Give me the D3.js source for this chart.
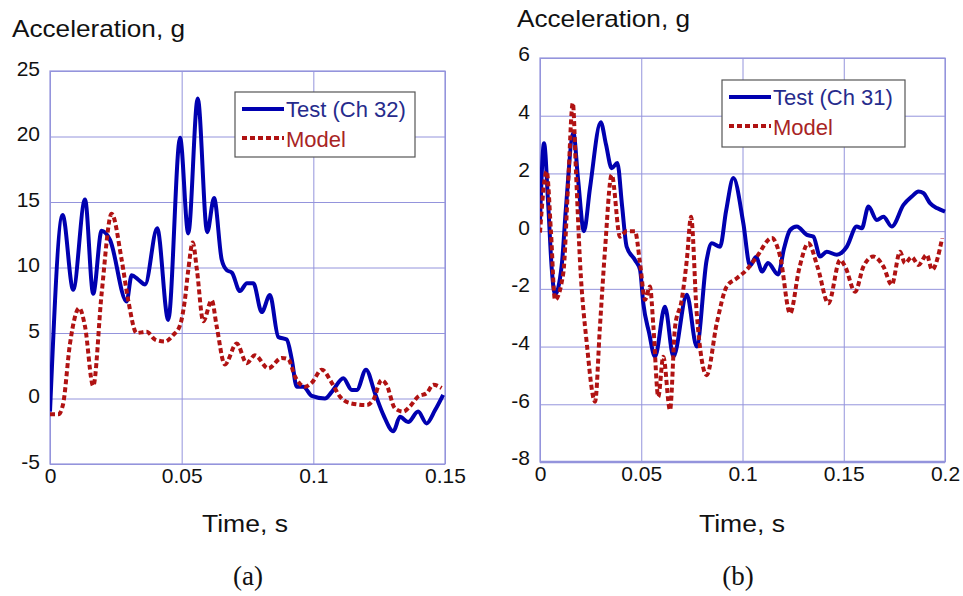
<!DOCTYPE html>
<html>
<head>
<meta charset="utf-8">
<script src="https://cdn.jsdelivr.net/npm/d3@7"></script>
<style>
  html, body { margin: 0; padding: 0; background: #fff; }
  svg { display: block; font-family: "Liberation Sans", Arial, Helvetica, sans-serif; }
</style>
</head>
<body>
<svg id="chart" width="963" height="596"></svg>
<script>
// ---------- DATA ----------
// Panel (a)
const aXTicks = [0, 0.05, 0.1, 0.15];
const aYTicks = [-5, 0, 5, 10, 15, 20, 25];
const aTestT = [0, 0.0048, 0.0088, 0.0133, 0.0164, 0.0196, 0.0228, 0.0291, 0.031, 0.0334, 0.0361, 0.0407, 0.0449, 0.0494, 0.0525, 0.0561, 0.0597, 0.0623, 0.0652, 0.0671, 0.0691, 0.0721, 0.0748, 0.0772, 0.0804, 0.0835, 0.0867, 0.0899, 0.0918, 0.0937, 0.0962, 0.0994, 0.1044, 0.107, 0.1114, 0.1146, 0.1165, 0.12, 0.1234, 0.1266, 0.1304, 0.1329, 0.136, 0.1398, 0.143, 0.1462, 0.1493];
const aTestV = [-1.0, 14.0, 8.3, 15.2, 8.0, 12.8, 12.1, 7.4, 9.4, 9.1, 8.7, 13.0, 6.0, 19.9, 12.6, 22.9, 12.7, 15.3, 10.6, 9.8, 9.6, 8.2, 8.8, 8.8, 6.6, 7.9, 4.7, 4.5, 3.0, 0.9, 0.9, 0.2, 0.0, 0.5, 1.55, 0.65, 0.65, 2.2, 0.4, -1.25, -2.5, -1.4, -1.8, -1.0, -1.9, -0.9, 0.28];
const aModelT = [0, 0.0032, 0.0049, 0.0076, 0.0111, 0.0133, 0.0164, 0.0196, 0.0234, 0.0272, 0.0297, 0.0329, 0.0367, 0.0399, 0.0437, 0.0468, 0.0494, 0.0512, 0.0525, 0.0542, 0.0558, 0.0582, 0.0614, 0.0633, 0.0664, 0.0709, 0.0747, 0.0778, 0.0829, 0.088, 0.0905, 0.093, 0.0968, 0.0994, 0.1032, 0.107, 0.1101, 0.1139, 0.1203, 0.1228, 0.1259, 0.1278, 0.131, 0.1342, 0.1367, 0.1398, 0.143, 0.1456, 0.1487];
const aModelV = [-1.2, -1.2, -0.5, 4.2, 6.9, 5.5, 0.96, 8.0, 14.1, 10.6, 7.5, 5.0, 5.1, 4.5, 4.35, 4.85, 5.6, 7.5, 9.8, 11.9, 9.8, 5.9, 7.5, 5.5, 2.6, 4.2, 2.7, 3.3, 2.3, 3.1, 3.0, 1.7, 0.9, 1.2, 2.2, 1.2, 0.15, -0.35, -0.5, -0.1, 1.4, 1.05, -0.75, -1.0, -0.6, 0.15, 0.4, 1.05, 0.8];

// Panel (b)
const bXTicks = [0, 0.05, 0.1, 0.15, 0.2];
const bYTicks = [-8, -6, -4, -2, 0, 2, 4, 6];
const bTestT = [0, 0.002, 0.004, 0.0058, 0.0074, 0.0107, 0.0128, 0.0165, 0.0188, 0.0217, 0.0247, 0.030, 0.0326, 0.0354, 0.0382, 0.0405, 0.0428, 0.0469, 0.0494, 0.051, 0.0538, 0.0568, 0.0617, 0.0659, 0.0725, 0.0774, 0.0823, 0.0848, 0.0889, 0.0919, 0.0955, 0.1004, 0.1037, 0.1067, 0.1097, 0.1126, 0.1176, 0.1205, 0.1235, 0.1268, 0.1318, 0.135, 0.1383, 0.1416, 0.1466, 0.1515, 0.1564, 0.1589, 0.1622, 0.1663, 0.1696, 0.1737, 0.1795, 0.1836, 0.1869, 0.1893, 0.1926, 0.196, 0.2];
const bTestV = [0.3, 3.05, 1.0, -1.3, -2.2, -1.2, 0.8, 3.4, 1.8, 0.0, 1.5, 3.77, 3.0, 2.18, 2.36, 0.9, -0.54, -1.0, -1.34, -2.5, -3.5, -4.35, -2.62, -4.35, -2.2, -4.0, -1.0, -0.42, -0.54, 0.7, 1.84, 0.28, -1.2, -0.9, -1.4, -1.1, -1.5, -0.6, 0.04, 0.16, -0.13, -0.19, -0.88, -0.71, -0.82, -0.54, 0.16, 0.1, 0.85, 0.39, 0.5, 0.16, 0.91, 1.2, 1.37, 1.32, 0.97, 0.8, 0.68];
const bModelT = [0, 0.0033, 0.0054, 0.0074, 0.0115, 0.0138, 0.0162, 0.0178, 0.0198, 0.0231, 0.0272, 0.0296, 0.0321, 0.0354, 0.0395, 0.0428, 0.0469, 0.0494, 0.0519, 0.0543, 0.056, 0.0584, 0.0609, 0.0642, 0.0667, 0.07, 0.0725, 0.0746, 0.0774, 0.0823, 0.0873, 0.0922, 0.0972, 0.1021, 0.1071, 0.1145, 0.1186, 0.1235, 0.128, 0.1325, 0.1373, 0.1424, 0.1482, 0.1507, 0.1556, 0.1597, 0.1646, 0.1696, 0.1737, 0.1778, 0.1802, 0.1836, 0.1869, 0.191, 0.1936, 0.1986];
const bModelV = [-0.05, 2.07, 0.0, -2.38, -1.46, 1.5, 4.44, 2.0, -1.11, -3.89, -5.91, -3.31, -0.65, 1.95, -0.19, 0.0, 0.0, -1.11, -2.38, -1.92, -3.31, -5.74, -4.35, -6.2, -3.31, -2.38, -1.0, 0.5, -2.85, -4.99, -3.19, -1.92, -1.63, -1.34, -0.88, -0.24, -0.88, -2.85, -1.3, -0.42, -1.3, -2.5, -1.0, -1.23, -2.1, -1.23, -0.88, -1.23, -1.86, -0.71, -1.11, -0.9, -1.17, -0.82, -1.34, -0.24];

// ---------- DRAW ----------
const svg = d3.select("#chart");
const GRID = "#9494dc";
const BLUE = "#0000b0";
const RED = "#b01212";
const SANS = "'Liberation Sans', Arial, Helvetica, sans-serif";
const SERIF = "'Liberation Serif', 'Times New Roman', Times, serif";

function panel(cfg) {
  const x = d3.scaleLinear().domain(cfg.xDomain).range([cfg.left, cfg.right]);
  const y = d3.scaleLinear().domain(cfg.yDomain).range([cfg.bottom, cfg.top]);
  const g = svg.append("g");

  // x axis + vertical grid
  const xa = g.append("g").attr("transform", `translate(0,${cfg.bottom})`)
    .call(d3.axisBottom(x).tickValues(cfg.xTicks).tickFormat(d => String(d))
      .tickSize(-(cfg.bottom - cfg.top)).tickPadding(cfg.xPad));
  xa.select(".domain").remove();
  xa.selectAll("line").attr("stroke", GRID).attr("stroke-width", 1);
  xa.selectAll("text").attr("font-size", 21).attr("fill", "#111").style("font-family", SANS);

  // y axis + horizontal grid
  const ya = g.append("g").attr("transform", `translate(${cfg.left},0)`)
    .call(d3.axisLeft(y).tickValues(cfg.yTicks).tickFormat(d => String(d))
      .tickSize(-(cfg.right - cfg.left)).tickPadding(10));
  ya.select(".domain").remove();
  ya.selectAll("line").attr("stroke", GRID).attr("stroke-width", 1);
  ya.selectAll("text").attr("font-size", 21).attr("fill", "#111").attr("dy", cfg.yDy)
    .style("font-family", SANS);

  // border
  g.append("rect").attr("x", cfg.left).attr("y", cfg.top)
    .attr("width", cfg.right - cfg.left).attr("height", cfg.bottom - cfg.top)
    .attr("fill", "none").attr("stroke", GRID).attr("stroke-width", 1.2);
  if (cfg.thickBottom) {
    g.append("line").attr("x1", cfg.left).attr("x2", cfg.right)
      .attr("y1", cfg.bottom).attr("y2", cfg.bottom)
      .attr("stroke", GRID).attr("stroke-width", 2.5);
  }

  const line = d3.line().x(d => x(d[0])).y(d => y(d[1])).curve(d3.curveMonotoneX);
  const clipId = "clip" + cfg.id;
  svg.append("clipPath").attr("id", clipId).append("rect")
    .attr("x", cfg.left).attr("y", cfg.top - 2)
    .attr("width", cfg.right - cfg.left + 2).attr("height", cfg.bottom - cfg.top + 2);

  const model = cfg.modelT.map((t, i) => [t, cfg.modelV[i]]);
  const test = cfg.testT.map((t, i) => [t, cfg.testV[i]]);

  g.append("path").datum(test).attr("d", line).attr("fill", "none")
    .attr("stroke", BLUE).attr("stroke-width", 4).attr("stroke-linejoin", "round")
    .attr("clip-path", `url(#${clipId})`);
  g.append("path").datum(model).attr("d", line).attr("fill", "none")
    .attr("stroke", RED).attr("stroke-width", 4).attr("stroke-dasharray", "5,3")
    .attr("clip-path", `url(#${clipId})`);

  // legend
  const L = cfg.legend;
  g.append("rect").attr("x", L.x).attr("y", L.y).attr("width", L.w).attr("height", L.h)
    .attr("fill", "#fff").attr("stroke", "#555").attr("stroke-width", 1.2);
  g.append("line").attr("x1", L.x + 7).attr("x2", L.x + 49).attr("y1", L.y + 17).attr("y2", L.y + 17)
    .attr("stroke", BLUE).attr("stroke-width", 4);
  g.append("text").attr("x", L.x + 51).attr("y", L.y + 25).attr("font-size", 22)
    .style("font-family", SANS).attr("fill", "#262b8c").text(cfg.testName);
  g.append("line").attr("x1", L.x + 7).attr("x2", L.x + 49).attr("y1", L.y + 46).attr("y2", L.y + 46)
    .attr("stroke", RED).attr("stroke-width", 4).attr("stroke-dasharray", "5,3");
  g.append("text").attr("x", L.x + 51).attr("y", L.y + 55).attr("font-size", 22)
    .style("font-family", SANS).attr("fill", "#a82424").text("Model");

  // titles
  g.append("text").attr("x", cfg.yTitleX).attr("y", cfg.yTitleY).attr("font-size", 24)
    .attr("textLength", 173).attr("lengthAdjust", "spacingAndGlyphs")
    .style("font-family", SANS).attr("fill", "#111").text("Acceleration, g");
  g.append("text").attr("x", cfg.xTitleX - 43).attr("y", 532).attr("font-size", 23)
    .attr("textLength", 86).attr("lengthAdjust", "spacingAndGlyphs")
    .style("font-family", SANS).attr("fill", "#111").text("Time, s");
  g.append("text").attr("x", cfg.labelX).attr("y", 585).attr("font-size", 27)
    .attr("text-anchor", "middle").attr("fill", "#111")
    .style("font-family", SERIF).text(cfg.label);
}

panel({
  id: "a", left: 50, right: 445, top: 71, bottom: 464,
  xDomain: [0, 0.15], yDomain: [-5, 25], xTicks: aXTicks, yTicks: aYTicks,
  xPad: 4.5, yDy: "0.19em",
  testT: aTestT, testV: aTestV, modelT: aModelT, modelV: aModelV,
  testName: "Test (Ch 32)",
  legend: { x: 235, y: 92, w: 180, h: 65 },
  yTitleX: 12, yTitleY: 37, xTitleX: 245, labelX: 248, label: "(a)"
});

panel({
  id: "b", left: 540, right: 945, top: 58, bottom: 462,
  xDomain: [0, 0.2], yDomain: [-8, 6], xTicks: bXTicks, yTicks: bYTicks,
  xPad: 4, yDy: "0.14em", thickBottom: true,
  testT: bTestT, testV: bTestV, modelT: bModelT, modelV: bModelV,
  testName: "Test (Ch 31)",
  legend: { x: 722, y: 80, w: 183, h: 67 },
  yTitleX: 517, yTitleY: 27, xTitleX: 742, labelX: 738, label: "(b)"
});
</script>
</body>
</html>
